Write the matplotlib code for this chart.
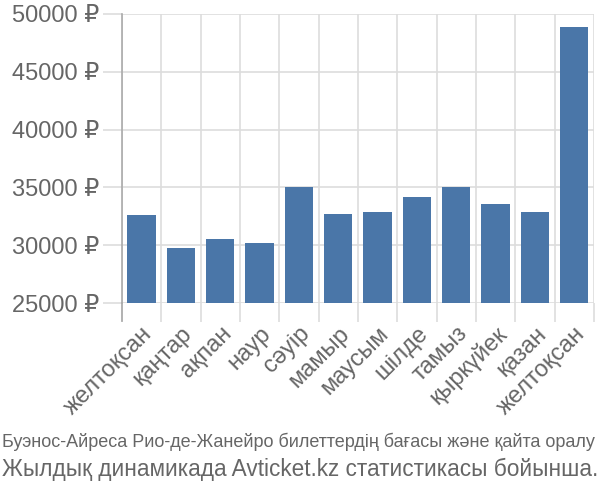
import numpy as np
import matplotlib.pyplot as plt
from matplotlib.ticker import FixedLocator

months = ['желтоқсан', 'қаңтар', 'ақпан', 'наур', 'сәуір', 'мамыр', 'маусым',
          'шілде', 'тамыз', 'қыркүйек', 'қазан', 'желтоқсан']
prices = [32600, 29800, 30500, 30200, 35000, 32700, 32850, 34200, 35000, 33550, 32850, 48900]
yticks = [25000, 30000, 35000, 40000, 45000, 50000]
title1 = 'Буэнос-Айреса Рио-де-Жанейро билеттердің бағасы және қайта оралу'
title2 = 'Жылдық динамикада Avticket.kz статистикасы бойынша.'

plt.rcParams['font.family'] = ['Liberation Sans', 'DejaVu Sans']

fig = plt.figure(figsize=(6, 5), dpi=100)
ax = fig.add_axes([0.203, 0.394, 0.787, 0.578])

x = np.arange(len(months))
ax.bar(x, prices, width=0.72, color='#4a76a8', zorder=3)

ax.set_xlim(-0.5, len(months) - 0.5)
ax.set_ylim(25000, 50000)
ax.set_yticks(yticks)
ax.set_yticklabels([f'{v} ₽' for v in yticks], fontsize=17, color='#666666')
ax.set_xticks(x)
ax.set_xticklabels(months, rotation=45, ha='right', rotation_mode='anchor',
                   fontsize=17, color='#666666')
ax.xaxis.set_minor_locator(FixedLocator(np.arange(len(months) + 1) - 0.5))

ax.tick_params(axis='x', which='major', length=0, pad=14)
ax.tick_params(axis='x', which='minor', length=14, color='#dddddd', width=1.2)
ax.tick_params(axis='y', length=14, color='#dddddd', width=1.2, pad=2)

ax.grid(axis='y', color='#dddddd', linewidth=1.2, zorder=0)
ax.grid(axis='x', which='minor', color='#dddddd', linewidth=1.2, zorder=0)

for s in ['top', 'right', 'bottom']:
    ax.spines[s].set_visible(False)
ax.spines['left'].set_color('#aaaaaa')
ax.spines['left'].set_linewidth(1.2)
ax.plot([-0.5, -0.5], [25000, 23400], color='#aaaaaa', linewidth=1.2, clip_on=False, zorder=4)

fig.text(0.004, 0.106, title1, fontsize=13, color='#666666')
fig.text(0.004, 0.048, title2, fontsize=16.3, color='#666666')

fig.savefig('out.png')
